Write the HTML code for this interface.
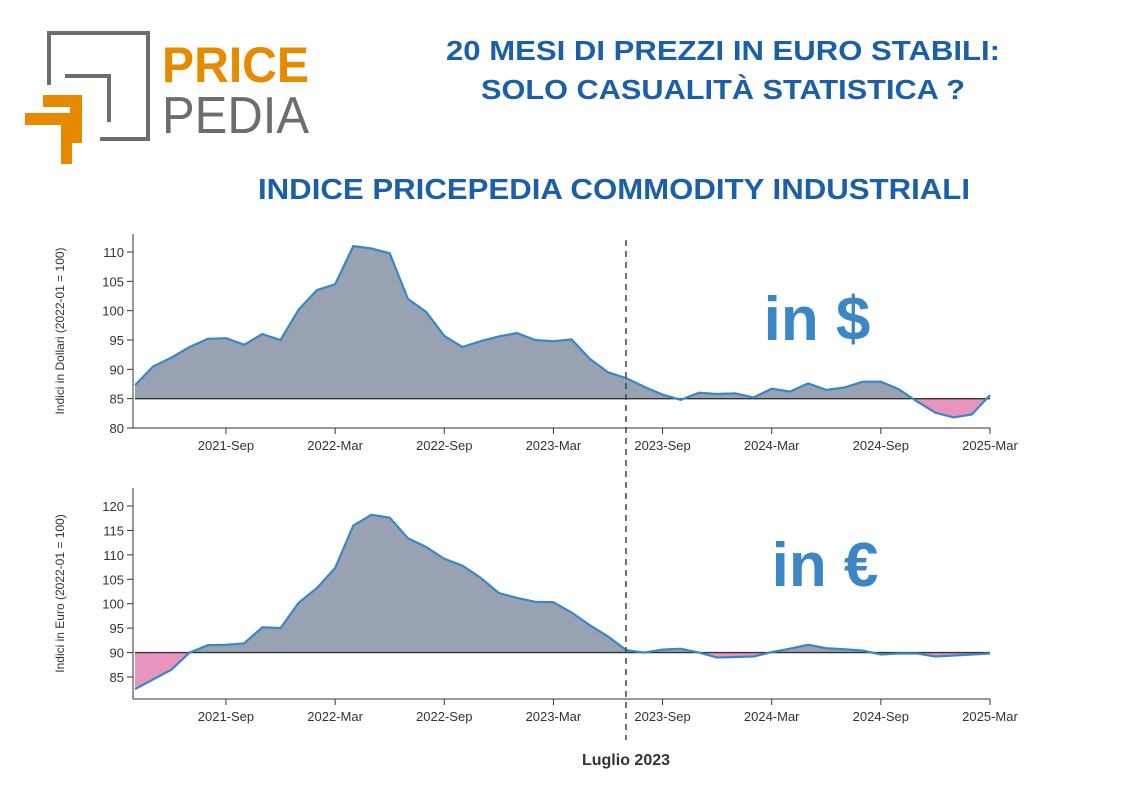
<!DOCTYPE html>
<html><head><meta charset="utf-8">
<style>
body{margin:0;width:1121px;height:793px;background:#fff;font-family:"Liberation Sans",sans-serif;overflow:hidden}
svg text{font-family:"Liberation Sans",sans-serif}
</style></head>
<body>
<svg width="1121" height="793" viewBox="0 0 1121 793">
<g>
<polyline points="49,85 49,33 148,33 148,139 100,139" fill="none" stroke="#6d6d6d" stroke-width="4"/>
<polyline points="65,76 109,76 109,122" fill="none" stroke="#6d6d6d" stroke-width="4"/>
<path d="M43,95 H82 V143 H70 V107 H43 Z" fill="#e88a00"/>
<path d="M25,113 H72 V164 H61 V125 H25 Z" fill="#e88a00"/>
<text x="162" y="82" font-size="50" font-weight="bold" fill="#e88a00" textLength="147" lengthAdjust="spacingAndGlyphs">PRICE</text>
<text x="162" y="133" font-size="52" fill="#6d6d6d" textLength="147" lengthAdjust="spacingAndGlyphs">PEDIA</text>
</g>
<text x="446" y="60" font-size="28" font-weight="bold" fill="#1a5fa8" textLength="554" lengthAdjust="spacingAndGlyphs">20 MESI DI PREZZI IN EURO STABILI:</text>
<text x="481" y="99" font-size="28" font-weight="bold" fill="#1a5fa8" textLength="484" lengthAdjust="spacingAndGlyphs">SOLO CASUALITÀ STATISTICA ?</text>
<text x="258" y="199" font-size="29" font-weight="bold" fill="#1a5fa8" textLength="712" lengthAdjust="spacingAndGlyphs">INDICE PRICEPEDIA COMMODITY INDUSTRIALI</text>
<g id="top"></g>
<g id="bot"></g>
<line x1="626" y1="240" x2="626" y2="740" stroke="#444" stroke-width="1.5" stroke-dasharray="6,5"/>
<text x="626" y="765" text-anchor="middle" font-size="16" font-weight="bold" fill="#333">Luglio 2023</text>
<text x="817" y="340" text-anchor="middle" font-size="62" font-weight="bold" fill="#3d86c6">in $</text>
<text x="825" y="586" text-anchor="middle" font-size="62" font-weight="bold" fill="#3d86c6">in €</text>
</svg>
<script>
const months=48;
const xTickLabels=["2021-Sep","2022-Mar","2022-Sep","2023-Mar","2023-Sep","2024-Mar","2024-Sep","2025-Mar"];
const xTickIdx=[5,11,17,23,29,35,41,47];
const usdValues=[87.3,90.5,92,93.8,95.2,95.3,94.2,96,95,100.2,103.5,104.5,111,110.6,109.8,102,99.8,95.7,93.8,94.8,95.6,96.2,95,94.8,95.1,91.8,89.5,88.5,87,85.7,84.8,86,85.8,85.9,85.2,86.7,86.2,87.6,86.5,86.9,87.9,87.9,86.6,84.5,82.6,81.8,82.3,85.6];
const eurValues=[82.5,84.5,86.5,90,91.5,91.6,91.9,95.2,95,100.2,103.2,107.3,116,118.2,117.6,113.4,111.6,109.2,107.8,105.3,102.2,101.2,100.4,100.3,98.2,95.6,93.3,90.5,90,90.6,90.8,90,89,89.1,89.2,90.1,90.8,91.6,90.9,90.7,90.4,89.6,89.8,89.8,89.2,89.4,89.6,89.8];
const usdTicks=[80,85,90,95,100,105,110];
const eurTicks=[85,90,95,100,105,110,115,120];
const NS="http://www.w3.org/2000/svg";
function mk(p,t,a){const e=document.createElementNS(NS,t);for(const k in a)e.setAttribute(k,a[k]);p.appendChild(e);return e;}
function draw(g,id,vals,ticks,base,v0,y0,v1,y1,axisY,ytitle){
 const X0=135,X1=990;
 const x=i=>X0+(X1-X0)*i/(months-1);
 const y=v=>y0+(v-v0)*(y1-y0)/(v1-v0);
 const by=y(base);
 let pts=vals.map((v,i)=>x(i).toFixed(1)+","+y(v).toFixed(1)).join(" L");
 const area="M"+x(0)+","+by+" L"+pts+" L"+x(months-1)+","+by+" Z";
 const defs=mk(g,"defs",{});
 const ca=mk(defs,"clipPath",{id:id+"a"});mk(ca,"rect",{x:0,y:0,width:1121,height:by});
 const cb=mk(defs,"clipPath",{id:id+"b"});mk(cb,"rect",{x:0,y:by,width:1121,height:400});
 const a1=mk(g,"path",{d:area,fill:"#98a2b3","clip-path":"url(#"+id+"a)"});
 
 
 const a2=mk(g,"path",{d:area,fill:"#e795bf","clip-path":"url(#"+id+"b)"});
 
 
 const bl=mk(g,"line",{x1:X0,x2:X1,y1:by,y2:by,stroke:"#333","stroke-width":1.3});
 
 
 const ln=mk(g,"path",{d:"M"+pts,fill:"none",stroke:"#3a87c8","stroke-width":2.2});
 
 
 const top=y(ticks[ticks.length-1])-18;
 mk(g,"line",{x1:X0-2,x2:X0-2,y1:top,y2:axisY,stroke:"#333","stroke-width":1});
 mk(g,"line",{x1:X0-2,x2:X1,y1:axisY,y2:axisY,stroke:"#333","stroke-width":1});
 ticks.forEach(t=>{mk(g,"line",{x1:X0-8,x2:X0-2,y1:y(t),y2:y(t),stroke:"#333"});
  const tx=mk(g,"text",{x:X0-11,y:y(t)+5,"text-anchor":"end","font-size":13,fill:"#333"});tx.textContent=t;
  
  });
 xTickIdx.forEach((ix,k)=>{mk(g,"line",{x1:x(ix),x2:x(ix),y1:axisY,y2:axisY+6,stroke:"#333"});
  const tx=mk(g,"text",{x:x(ix),y:axisY+22,"text-anchor":"middle","font-size":13,fill:"#333"});tx.textContent=xTickLabels[k];
  
  });
 const yt=mk(g,"text",{x:0,y:0,"text-anchor":"middle","font-size":12,fill:"#333",transform:"translate(64,"+((top+axisY)/2)+") rotate(-90)"});
 yt.textContent=ytitle;
 
 
}
draw(document.getElementById("top"),"t",usdValues,usdTicks,85,110,252,80,428,428,"Indici in Dollari (2022-01 = 100)");
draw(document.getElementById("bot"),"b",eurValues,eurTicks,90,120,506,85,677,699,"Indici in Euro (2022-01 = 100)");
</script>
</body></html>
